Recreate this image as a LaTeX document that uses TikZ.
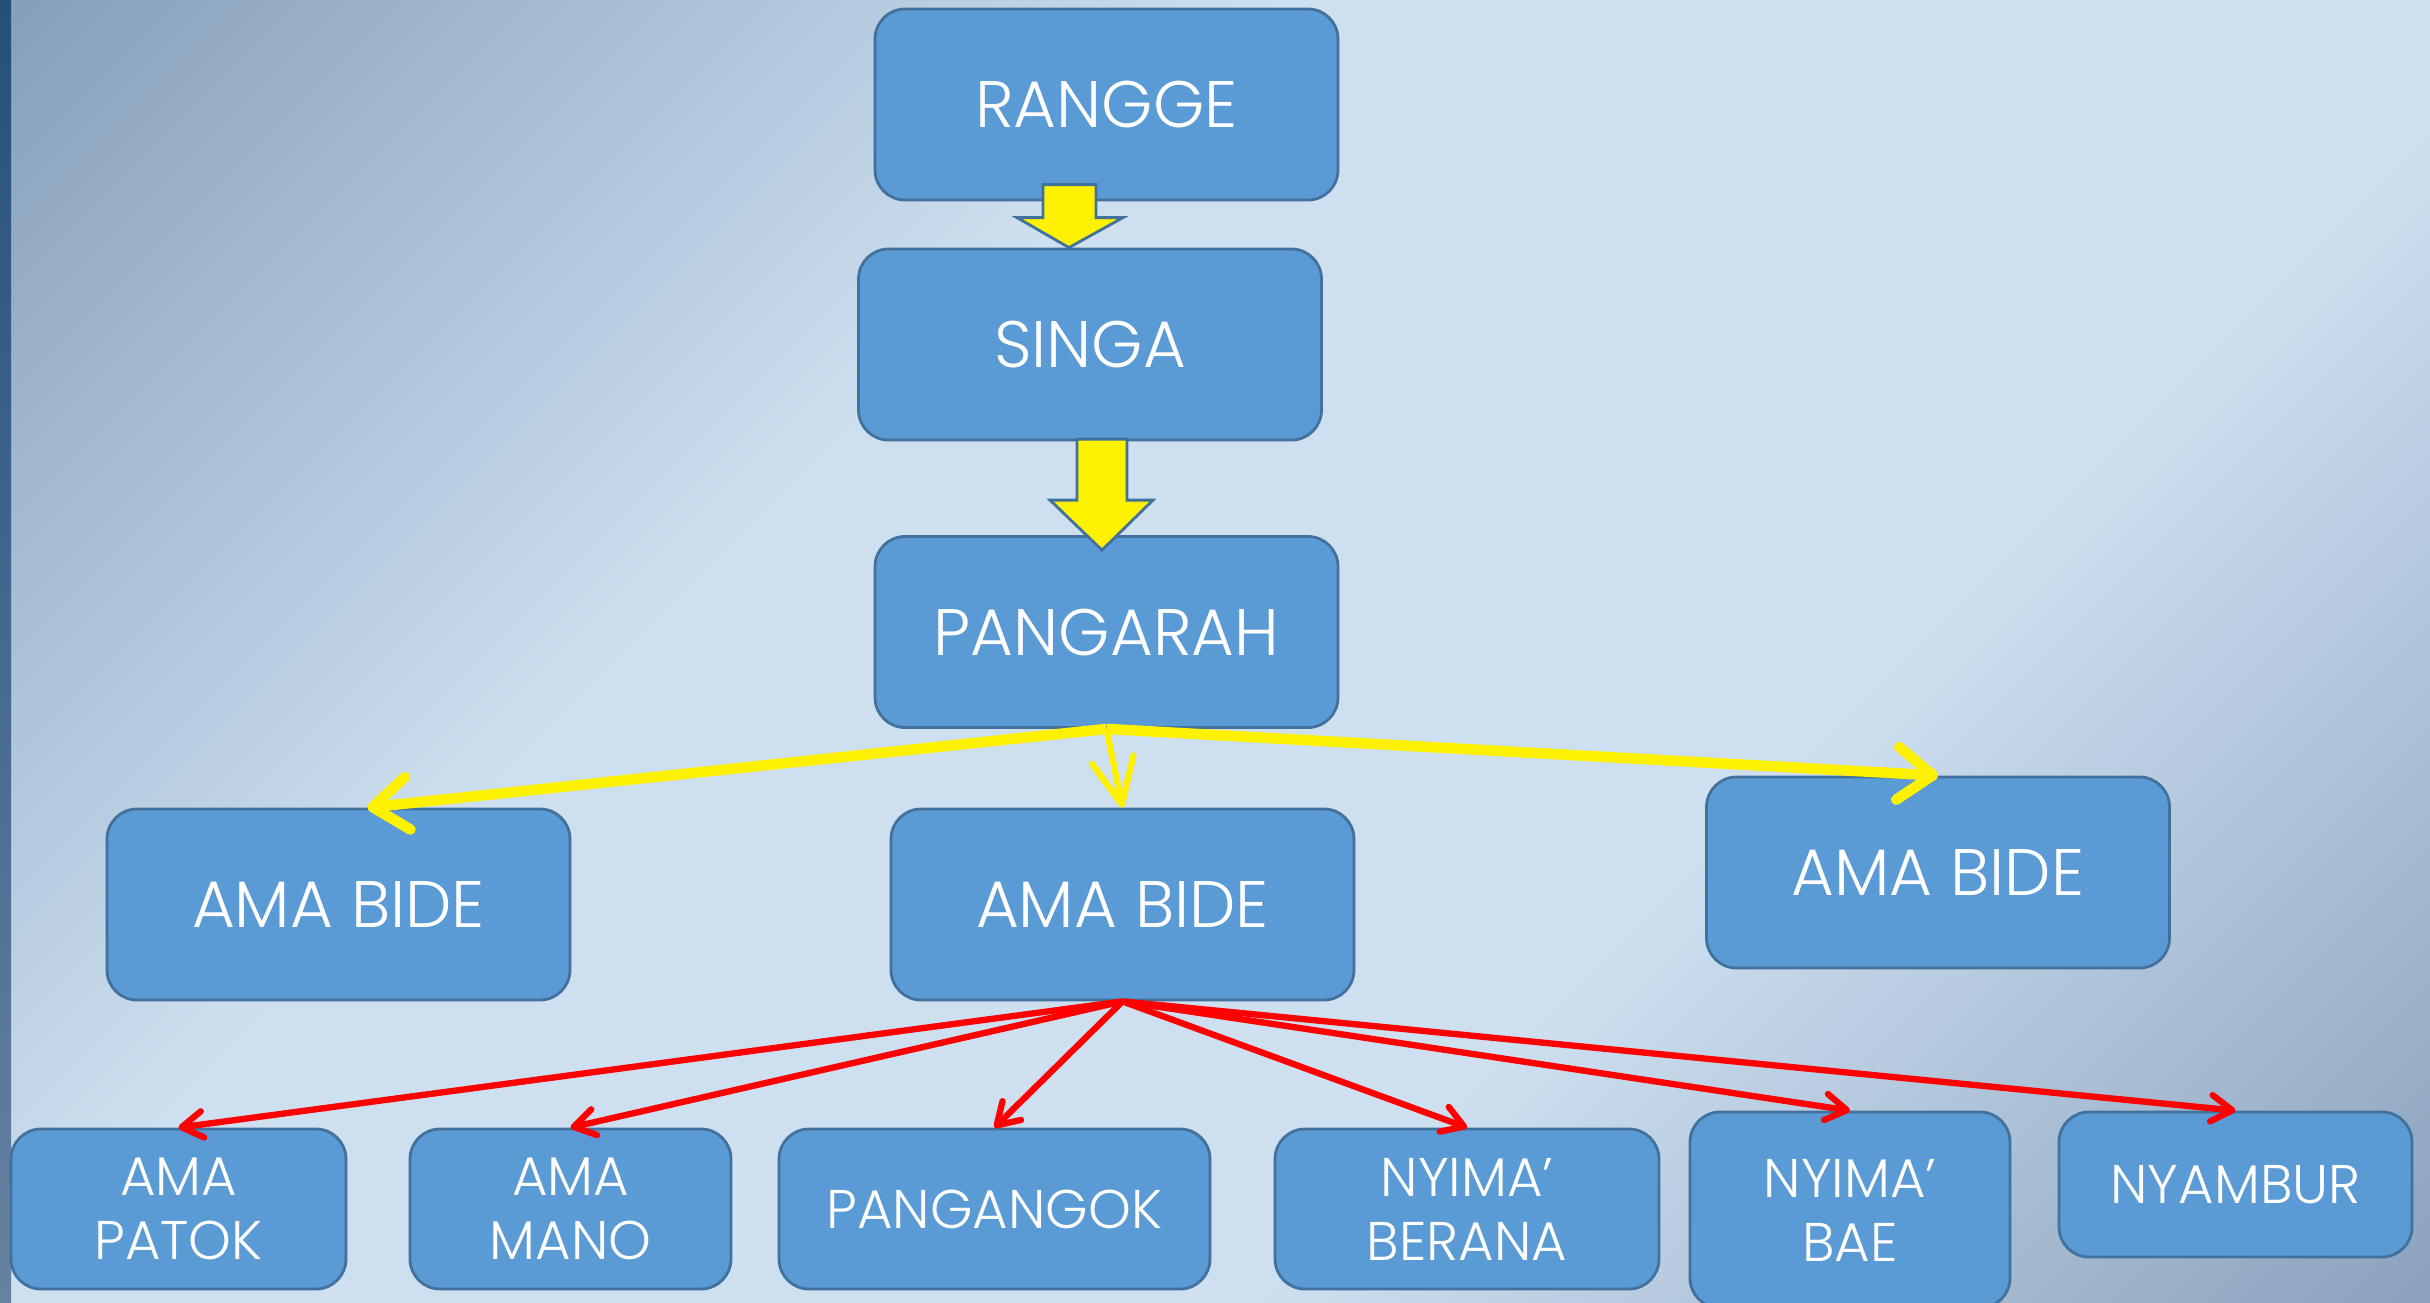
\documentclass[tikz,border=0pt]{standalone}
\usepackage{fontspec}
\setmainfont{Poppins}[UprightFont={* Light}]
\usepackage{xcolor}
\usetikzlibrary{arrows.meta}

\definecolor{boxblue}{HTML}{5B9BD5}
\definecolor{boxline}{HTML}{41719C}
\definecolor{bgA}{HTML}{86A0BA}
\definecolor{bgB}{HTML}{8CA3BE}
\definecolor{bglight}{HTML}{CEE0F0}
\definecolor{bartop}{HTML}{25507C}
\definecolor{barbot}{HTML}{6682A2}

\pgfdeclareverticalshading{slidebg}{100bp}{color(0bp)=(bgB); color(15bp)=(bgB);
  color(37bp)=(bglight); color(61bp)=(bglight); color(85bp)=(bgA); color(100bp)=(bgA)}

\tikzset{
  box/.style={draw=boxline, fill=boxblue, line width=0.8pt, rounded corners=3mm,
    text=white, inner sep=0pt, align=center},
  bigbox/.style={box, minimum width=46.3mm, minimum height=19.1mm,
    font=\fontsize{18.7}{22}\selectfont},
  smallbox/.style={box, minimum height=16mm, font=\fontsize{15.5}{18.2}\selectfont},
  blockarrow/.style={draw=boxline, fill=yellow, line width=0.8pt, line join=miter},
  goldline/.style={draw=yellow, line width=3pt,
    -{Straight Barb[length=10pt,width=15pt,round]}},
  redline/.style={draw=red, line width=1.8pt,
    -{Straight Barb[length=6pt,width=7.5pt,round]}}
}

\begin{document}
\begin{tikzpicture}[x=0.1mm, y=-0.1mm]
  \useasboundingbox (0,0) rectangle (2430,1303);
  % Background
  \shade[shading=slidebg, shading angle=45] (0,0) rectangle (2430,1303);
  \shade[top color=bartop, bottom color=barbot] (0,0) rectangle (11,1303);

  % Top chain
  \node[bigbox] (rangge) at (1106.5,104.5) {RANGGE};
  \node[bigbox] (singa) at (1090,344.5) {SINGA};
  \node[bigbox] (pangarah) at (1106.5,632) {PANGARAH};

  % Ama Bide row
  \node[bigbox] (bideA) at (338.5,904.5) {AMA BIDE};
  \node[bigbox] (bideB) at (1122.5,904.5) {AMA BIDE};
  \node[bigbox] (bideC) at (1938,872.5) {AMA BIDE};

  % Bottom row
  \node[smallbox, minimum width=33.5mm] (patok) at (178.5,1209) {AMA\\PATOK};
  \node[smallbox, minimum width=32.1mm] (mano) at (570.5,1209) {AMA\\MANO};
  \node[smallbox, minimum width=43.1mm] (pangangok) at (994.5,1209) {PANGANGOK};
  \node[smallbox, minimum width=38.4mm] (berana) at (1467,1209) {NYIMA’\\BERANA};
  \node[smallbox, minimum width=32mm, minimum height=19.6mm] (bae) at (1850,1210) {NYIMA’\\BAE};
  \node[smallbox, minimum width=35.3mm, minimum height=14.5mm] (nyambur) at (2235.5,1184.5) {NYAMBUR};

  % Block arrows
  \draw[blockarrow] ([xshift=-2.1mm]singa.north) --++(-52,-30) --++(26,0) --++(0,-33)
    --++(53,0) --++(0,33) --++(27,0) -- cycle;
  \draw[blockarrow] ([xshift=-0.45mm,yshift=-1.5mm]pangarah.north) --++(-52,-50) --++(27,0)
    --++(0,-61) --++(50,0) --++(0,61) --++(26,0) -- cycle;

  % Yellow arrows
  \draw[goldline] (pangarah.south) -- ([xshift=2.9mm]bideA.north);
  \draw[goldline, line width=1.8pt, -{Straight Barb[length=13pt,width=12pt,round]}]
    (pangarah.south) -- (bideB.north);
  \draw[goldline] (pangarah.south) -- (bideC.north);

  % Red arrows
  \foreach \kid in {patok, mano, pangangok, berana, bae, nyambur}
    \draw[redline] (bideB.south) -- (\kid.north);
\end{tikzpicture}
\end{document}
